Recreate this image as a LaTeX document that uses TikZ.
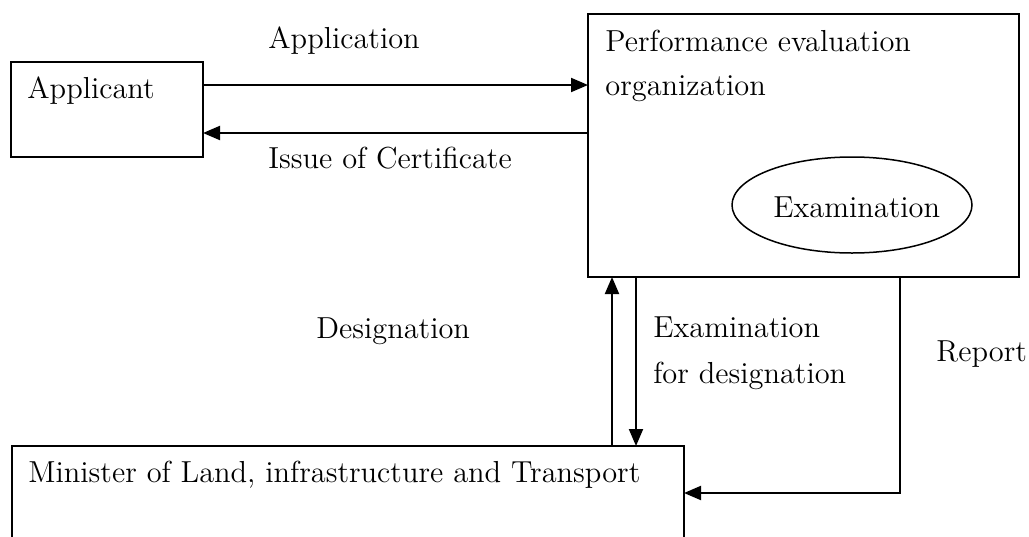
\documentclass[tikz,border=0pt]{standalone}
\usepackage{fontspec}
\setmainfont{lmroman12-regular.otf}
\usetikzlibrary{arrows.meta,shapes.geometric}
\begin{document}
\begin{tikzpicture}[x=0.5pt,y=-0.5pt,
  box/.style={draw,line width=1pt,inner sep=0pt,outer sep=0pt},
  oval/.style={draw,ellipse,line width=0.75pt,inner sep=0pt,outer sep=0pt,minimum width=120pt,minimum height=48pt},
  txt/.style={anchor=base west,inner sep=0pt,font=\fontsize{15.2pt}{18pt}\selectfont},
  arr/.style={line width=1pt,-{Triangle[length=8.5pt,width=7pt]}},
  ln/.style={line width=1pt}]
\useasboundingbox (0,0) rectangle (1029,536);
% boxes
\node[box,minimum width=96pt,minimum height=47.5pt] (applicant) at (107,109.5) {};
\node[box,minimum width=215.5pt,minimum height=131.5pt] (peo) at (803.5,145.5) {};
\node[box,minimum width=336pt,minimum height=50pt] (min) at (348,496) {};
\node[oval] (exam) at (852,205) {};
% texts
\node[txt] (tapplicant) at (27,98) {Applicant};
\node[txt] (tperf) at (605,51) {Performance evaluation};
\node[txt] (torg) at (605,95) {organization};
\node[txt] (texam) at (773,217) {Examination};
\node[txt] (tmin) at (28,482) {Minister of Land, infrastructure and Transport};
\node[txt] (tapplication) at (268,48) {Application};
\node[txt] (tissue) at (268,168) {Issue of Certificate};
\node[txt] (tdesig) at (316,338) {Designation};
\node[txt] (texd1) at (653,337) {Examination};
\node[txt] (texd2) at (653,383) {for designation};
\node[txt] (treport) at (936,361) {Report};
% connectors
\draw[arr] (applicant.east |- {(0,85)}) -- (peo.west |- {(0,85)});
\draw[arr] (peo.west |- {(0,133)}) -- (applicant.east |- {(0,133)});
\draw[arr] (min.north -| {(612,0)}) -- (peo.south -| {(612,0)});
\draw[arr] (peo.south -| {(636,0)}) -- (min.north -| {(636,0)});
\coordinate (rc) at (900,493);
\draw[arr] (peo.south -| rc) -- (rc) -- (min.east |- rc);
\end{tikzpicture}
\end{document}
